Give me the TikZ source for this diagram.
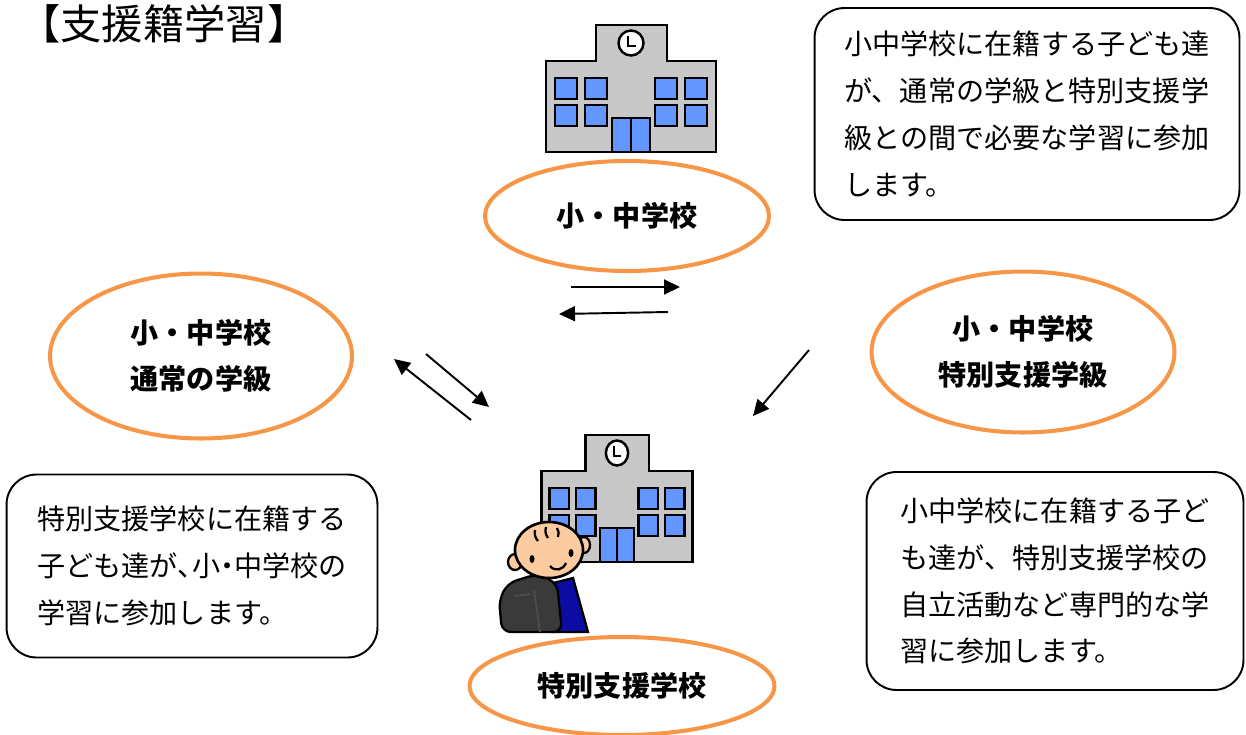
\documentclass[tikz,border=0pt]{standalone}
\usepackage{fontspec}
\setmainfont{Noto Sans CJK JP}
\newfontfamily\heavyfont{Noto Sans CJK JP}[UprightFont={* Black}]
\usepackage{tikz}
\usetikzlibrary{shapes,arrows.meta,positioning}
\definecolor{ringorange}{RGB}{247,150,70}
\definecolor{wallgray}{RGB}{200,200,200}
\definecolor{glassblue}{RGB}{100,150,255}
\definecolor{skintone}{RGB}{252,204,160}
\definecolor{bagdark}{RGB}{58,58,58}
\definecolor{uniformblue}{RGB}{12,12,165}

% half-width punctuation inside a line
\newcommand{\halfl}[1]{\makebox[0.5em][l]{#1}}
\newcommand{\halfc}[1]{\makebox[0.5em][c]{#1}}

\tikzset{
  school/.pic={
    % wall and tower in one outline
    \draw[line width=1.6pt, fill=wallgray]
      (-85,0) -- (-85,-91) -- (-35,-91) -- (-35,-127) -- (36,-127)
      -- (36,-91) -- (85,-91) -- (85,0) -- cycle;
    % clock
    \draw[line width=1.4pt, fill=white] (0,-109) ellipse (12.5 and 12.5);
    \draw[line width=1.1pt] (-3,-116) -- (-3,-106) -- (5,-106);
    % windows
    \foreach \wx in {-76,-46,24,54}
      \foreach \wy in {-74,-47}
        \draw[line width=1.4pt, fill=glassblue] (\wx,\wy) rectangle ++(22,21);
    % door
    \draw[line width=1.4pt, fill=glassblue] (-19,0) rectangle (0,-34);
    \draw[line width=1.4pt, fill=glassblue] (0,0) rectangle (19,-34);
  }
}

\begin{document}
\begin{tikzpicture}[x=0.02cm, y=-0.02cm,
  ring/.style={ellipse, draw=ringorange, line width=2.3pt, fill=white,
    align=center, inner sep=0pt, font=\heavyfont\fontsize{16pt}{26pt}\selectfont},
  note/.style={rectangle, draw, rounded corners=0.6cm, line width=1.1pt,
    align=left, inner sep=0pt, font=\fontsize{16pt}{26.6pt}\selectfont},
  arr/.style={-{Triangle[length=0.32cm, width=0.3cm]}, line width=1.1pt}
]
  \useasboundingbox (0,0) rectangle (1246,734);

  % Title
  \node[anchor=west, inner sep=0pt, font=\fontsize{23.5pt}{28pt}\selectfont]
    (title) at (19,24) {【支援籍学習】};

  % Schools
  \pic at (631,152) {school};
  \pic[xscale=0.89] at (617,562) {school};

  % Pupil in front of the special school
  \draw[line width=1.3pt, fill=uniformblue] (553,583) -- (573,578) -- (588,632) -- (552,632) -- cycle;
  \draw[line width=1.3pt, fill=bagdark, rounded corners=5pt]
    (502,632) -- (499,600) -- (508,583) -- (537,574) -- (557,583) -- (562,632) -- cycle;
  \draw[line width=1.1pt, gray!60!black] (534,590) -- (540,632);
  \draw[line width=1.1pt, gray!60!black] (515,596) -- (530,594);
  \draw[line width=1.3pt, fill=skintone] (515,562) ellipse (7 and 8);
  \draw[line width=1.3pt, fill=skintone] (584,545) ellipse (6 and 8);
  \draw[line width=1.5pt, fill=skintone] (549,550) ellipse (34 and 28);
  \draw[line width=1.3pt] (535,530) to[bend right=25] (538,541);
  \draw[line width=1.3pt] (546,527) to[bend right=25] (548,538);
  \draw[line width=1.3pt] (557,528) to[bend left=25] (558,537);
  \fill (532,559) ellipse (2.5 and 4);
  \fill (571,553) ellipse (2.5 and 4);
  \draw[line width=1.3pt] (550,566) .. controls (555,572) and (563,570) .. (566,563);

  % School rings
  \node[ring, minimum width=5.68cm, minimum height=2.2cm] (jhs) at (627,216) {小・中学校};
  \node[ring, minimum width=6.04cm, minimum height=3.3cm] (regular) at (201,356)
    {小・中学校\\通常の学級};
  \node[ring, minimum width=6.06cm, minimum height=3.22cm] (special) at (1023,352)
    {小・中学校\\特別支援学級};
  \node[ring, minimum width=6.1cm, minimum height=1.96cm] (sns) at (622,686) {特別支援学校};

  % Explanations
  \node[note, minimum width=8.5cm, minimum height=4.24cm] (notejhs) at (1027,114)
    {小中学校に在籍する子ども達\\が、通常の学級と特別支援学\\級との間で必要な学習に参加\\します。};
  \node[note, minimum width=7.42cm, minimum height=3.66cm] (notesns) at (192,566)
    {特別支援学校に在籍する\\子ども達が\halfl{、}小\halfc{・}中学校の\\学習に参加します。};
  \node[note, minimum width=7.54cm, minimum height=4.36cm] (notespecial) at (1055,581)
    {小中学校に在籍する子ど\\も達が、特別支援学校の\\自立活動など専門的な学\\習に参加します。};

  % Arrow ends
  \coordinate (a1s) at (571,287);  \coordinate (a1e) at (680,287);
  \coordinate (a2s) at (668,312);  \coordinate (a2e) at (559,314);
  \coordinate (a3s) at (471,420);  \coordinate (a3e) at (394,359);
  \coordinate (a4s) at (426,354);  \coordinate (a4e) at (489,407);
  \coordinate (a5s) at (809,350);  \coordinate (a5e) at (753,416);

  % Arrows
  \draw[arr] (a1s) -- (a1e);
  \draw[arr] (a2s) -- (a2e);
  \draw[arr] (a3s) -- (a3e);
  \draw[arr] (a4s) -- (a4e);
  \draw[arr] (a5s) -- (a5e);
\end{tikzpicture}
\end{document}
